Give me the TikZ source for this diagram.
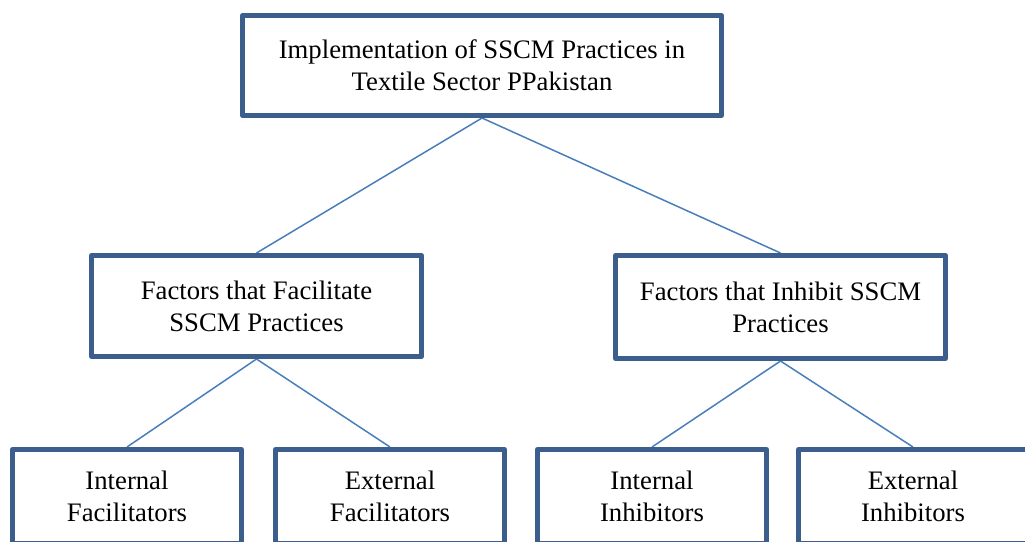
\documentclass[tikz,border=0pt]{standalone}
\usepackage{fontspec}
\setmainfont{Liberation Serif}
\usetikzlibrary{backgrounds}
\definecolor{boxblue}{HTML}{3B5E8C}
\definecolor{linkblue}{HTML}{4A7EBB}
\begin{document}
\begin{tikzpicture}[x=1pt,y=-1pt,
  box/.style={draw=boxblue, line width=5pt, fill=white, line join=round,
    align=center, inner sep=0pt, font=\fontsize{26.7}{32}\selectfont},
  link/.style={draw=linkblue, line width=1.5pt}]
\useasboundingbox (0,0) rectangle (1025,541);
\clip (0,0) rectangle (1025,541);
\node[box, minimum width=479pt, minimum height=100pt] (top) at (482,65.5)
  {Implementation of SSCM Practices in\\Textile Sector PPakistan};
\node[box, minimum width=330pt, minimum height=101pt] (fac) at (256.5,306)
  {Factors that Facilitate\\SSCM Practices};
\node[box, minimum width=330pt, minimum height=103pt] (inh) at (780.5,307)
  {Factors that Inhibit SSCM\\Practices};
\node[box, minimum width=229pt, minimum height=94pt] (ifac) at (127,496.5)
  {Internal\\Facilitators};
\node[box, minimum width=229pt, minimum height=94pt] (efac) at (390,496.5)
  {External\\Facilitators};
\node[box, minimum width=229pt, minimum height=94pt] (iinh) at (652,496.5)
  {Internal\\Inhibitors};
\node[box, minimum width=229pt, minimum height=94pt] (einh) at (913,496.5)
  {External\\Inhibitors};
\begin{pgfonlayer}{background}
\draw[link] (top.south) -- (fac.north);
\draw[link] (top.south) -- (inh.north);
\draw[link] (fac.south) -- (ifac.north);
\draw[link] (fac.south) -- (efac.north);
\draw[link] (inh.south) -- (iinh.north);
\draw[link] (inh.south) -- (einh.north);
\end{pgfonlayer}
\end{tikzpicture}
\end{document}
